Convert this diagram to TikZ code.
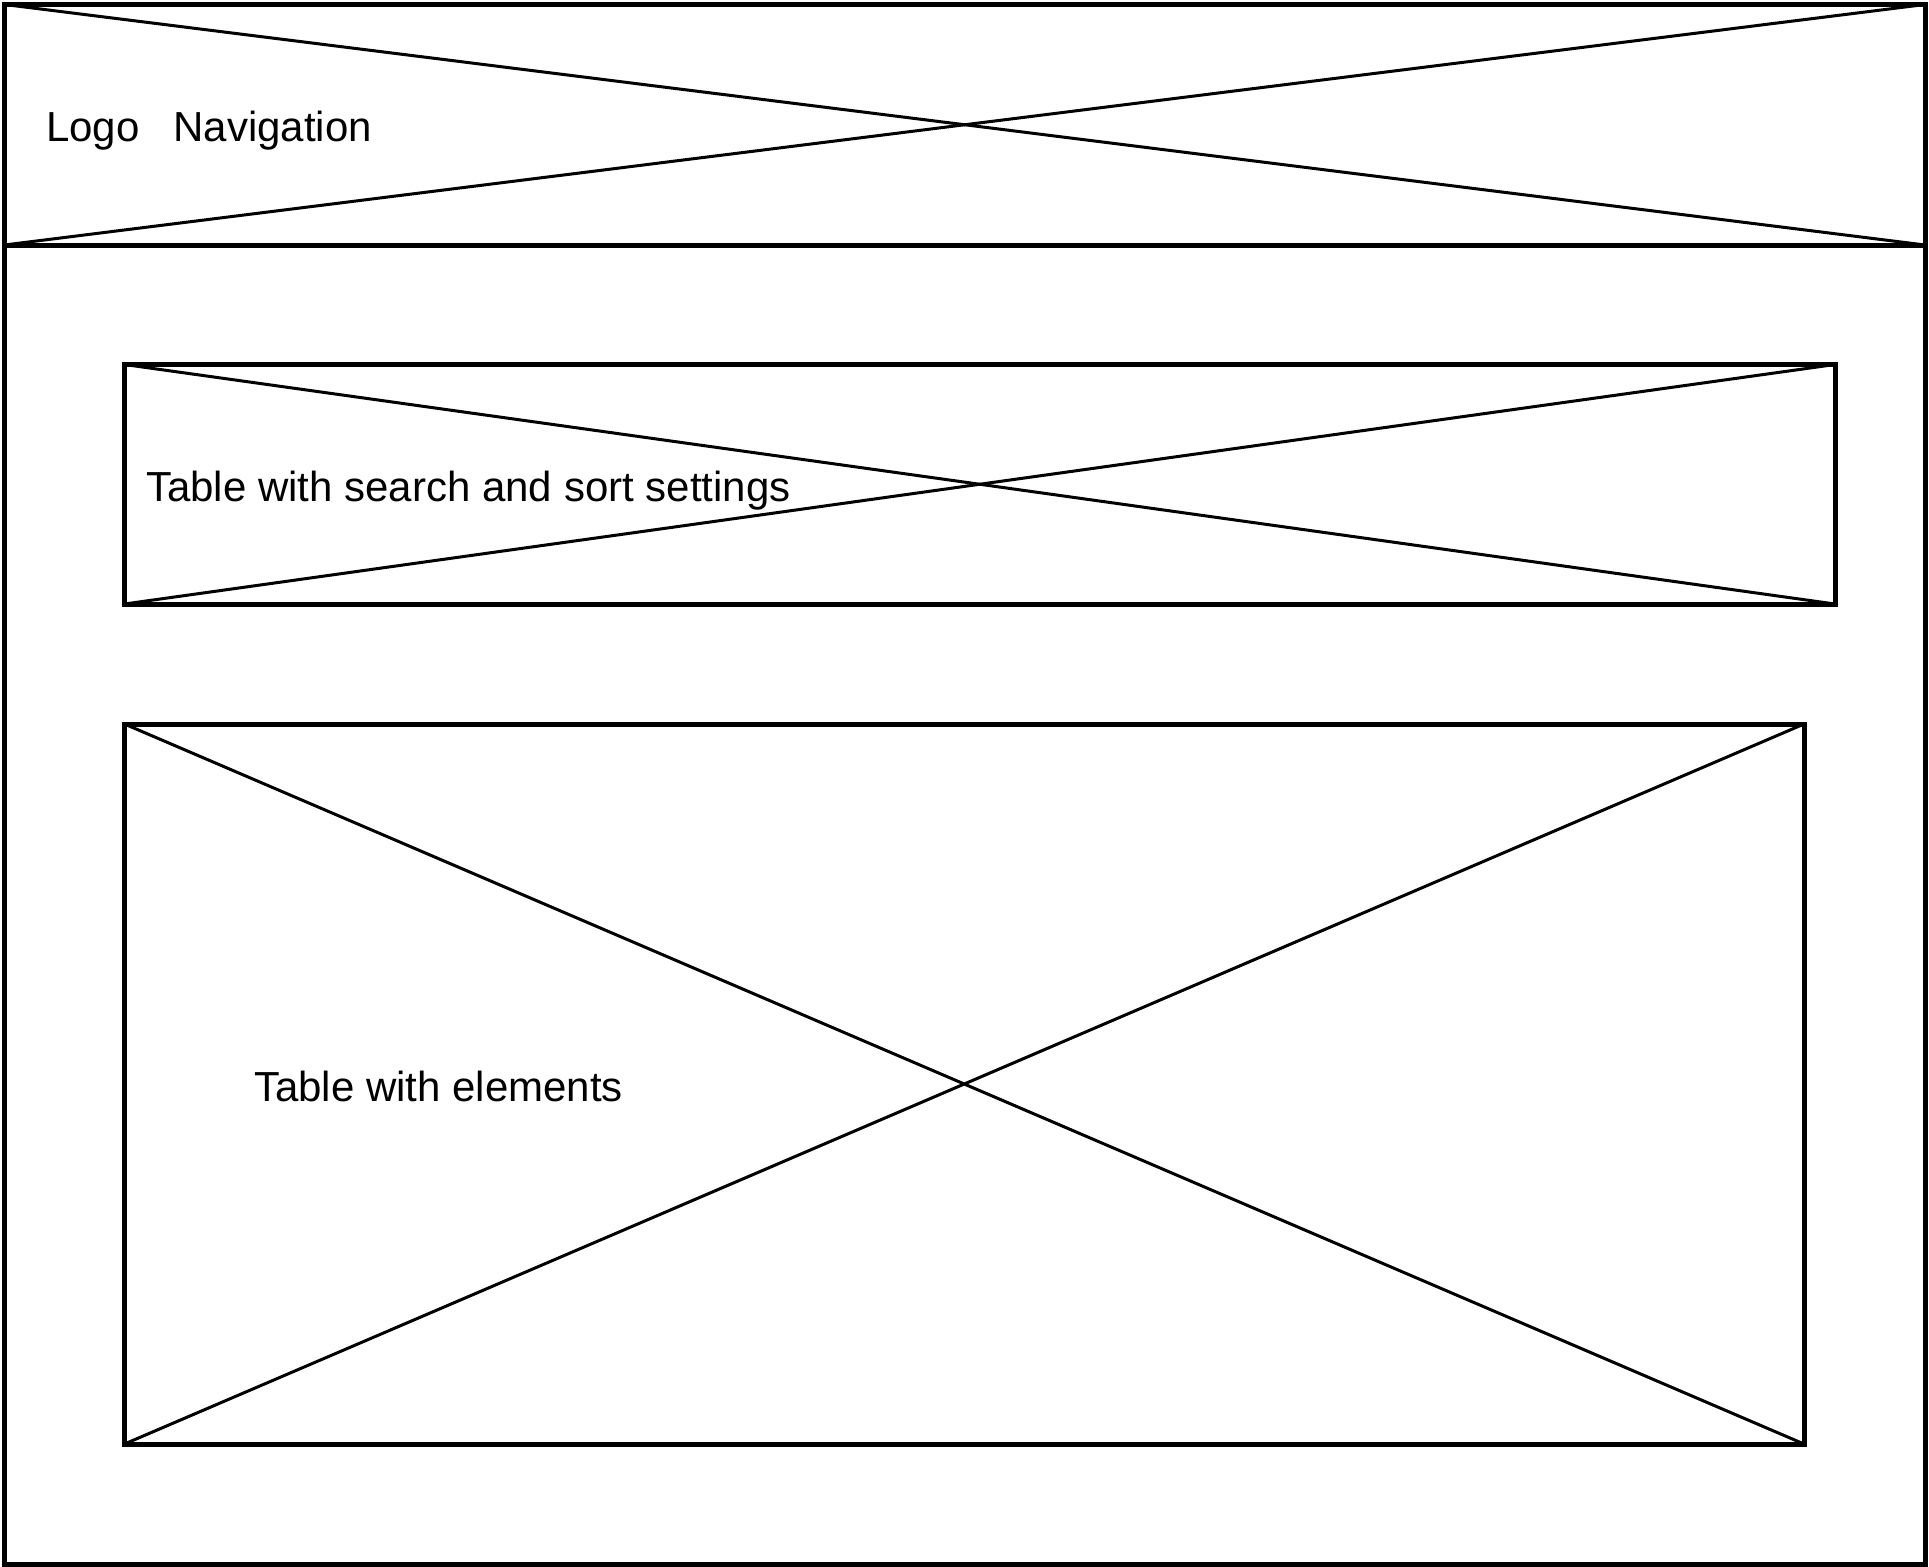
\documentclass[tikz,border=0pt]{standalone}
\usepackage{fontspec}
\setmainfont{Liberation Sans}

\begin{document}
\begin{tikzpicture}[x=1pt,y=1pt]
\tikzstyle{every node}+=[inner sep=0pt,anchor=base west,font=\fontsize{42}{50}\selectfont]
\useasboundingbox (0,0) rectangle (1929,-1566);
% corners of the three placeholder boxes
\coordinate (hdrTL) at (4.5,-4.5);
\coordinate (hdrBR) at (1925,-245);
\coordinate (hdrTR) at (1925,-4.5);
\coordinate (hdrBL) at (4.5,-245);
\coordinate (srchTL) at (124.5,-364.5);
\coordinate (srchBR) at (1835,-604);
\coordinate (srchTR) at (1835,-364.5);
\coordinate (srchBL) at (124.5,-604);
\coordinate (elemTL) at (124.5,-724);
\coordinate (elemBR) at (1804,-1444);
\coordinate (elemTR) at (1804,-724);
\coordinate (elemBL) at (124.5,-1444);
% crosses
\draw [black,line width=3pt] (hdrTL) -- (hdrBR);
\draw [black,line width=3pt] (hdrBL) -- (hdrTR);
\draw [black,line width=3pt] (srchTL) -- (srchBR);
\draw [black,line width=3pt] (srchBL) -- (srchTR);
\draw [black,line width=3pt] (elemTL) -- (elemBR);
\draw [black,line width=3pt] (elemBL) -- (elemTR);
% frames
\draw [black,line width=5pt] (4.5,-4.5) rectangle (1925,-1564);
\draw [black,line width=5pt] (hdrTL) rectangle (hdrBR);
\draw [black,line width=5pt] (srchTL) rectangle (srchBR);
\draw [black,line width=5pt] (elemTL) rectangle (elemBR);
% labels
\draw (46,-141) node (logo) {Logo\hspace{34pt}Navigation};
\draw (146,-501) node (srch) {Table with search and sort settings};
\draw (254,-1101) node (elem) {Table with elements};
\end{tikzpicture}
\end{document}
